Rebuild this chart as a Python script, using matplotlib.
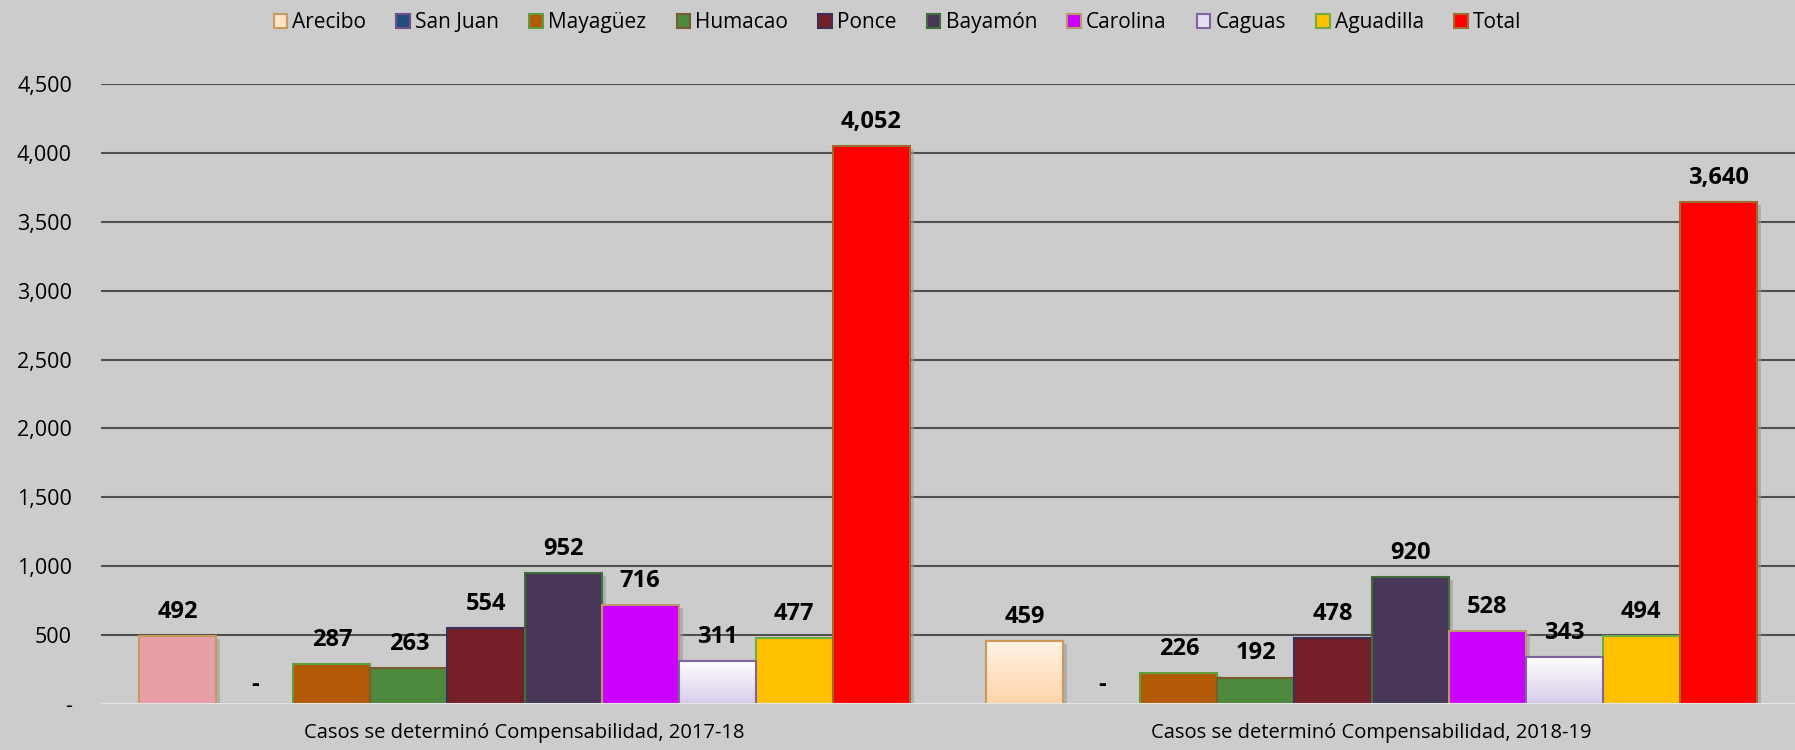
import numpy as np
import matplotlib.pyplot as plt
import matplotlib.patheffects as pe
from matplotlib.patches import Patch
from matplotlib.colors import LinearSegmentedColormap

plt.rcParams['font.family'] = ['Open Sans', 'DejaVu Sans']

# data
categories = ['Casos se determinó Compensabilidad, 2017-18',
              'Casos se determinó Compensabilidad, 2018-19']
regions = ['Arecibo', 'San Juan', 'Mayagüez', 'Humacao', 'Ponce',
           'Bayamón', 'Carolina', 'Caguas', 'Aguadilla', 'Total']
vals_1718 = [492, 0, 287, 263, 554, 952, 716, 311, 477, 4052]
vals_1819 = [459, 0, 226, 192, 478, 920, 528, 343, 494, 3640]
y_ticks = [0, 500, 1000, 1500, 2000, 2500, 3000, 3500, 4000, 4500]

face = ['#FFE3C6', '#1F4E79', '#B35A07', '#4E8A3E', '#751F28',
        '#483758', '#CC00FF', '#E6DDF2', '#FFC000', '#FF0000']
edge = ['#C9995E', '#6B4E8A', '#5E9E3E', '#7A5A30', '#3E2F5A',
        '#3F6E3A', '#B89A6A', '#8064A2', '#70AD47', '#9E6A2E']
# first-year Arecibo bar is drawn pink in the original
face_1718 = list(face)
face_1718[0] = '#E8A0A8'
gradients = {0: ('#FFF3E6', '#FFD5AA'), 7: ('#FFFFFF', '#D8CCEA')}

fig = plt.figure(figsize=(17.95, 7.5), dpi=100)
fig.patch.set_facecolor('#CCCCCC')
ax = fig.add_axes([0.0563, 0.0613, 0.9437, 0.8267])
ax.set_facecolor('#CCCCCC')

n = len(regions)
group_w = 0.91
w = group_w / n
x = np.arange(len(categories))
shadow = [pe.SimplePatchShadow(offset=(3, -2), shadow_rgbFace='#9a9a9a', alpha=0.6), pe.Normal()]

for gi, vals in enumerate([vals_1718, vals_1819]):
    cols = face_1718 if gi == 0 else face
    for i, v in enumerate(vals):
        xpos = x[gi] - group_w / 2 + w * (i + 0.5)
        b = ax.bar(xpos, v, width=w, color=cols[i], edgecolor=edge[i],
                   linewidth=1.5, zorder=3)[0]
        if v > 0:
            b.set_path_effects(shadow)
        grad = gradients.get(i)
        if grad and not (gi == 0 and i == 0) and v > 0:
            cmap = LinearSegmentedColormap.from_list('g', [grad[1], grad[0]])
            im = ax.imshow(np.linspace(0, 1, 100).reshape(-1, 1), cmap=cmap,
                           extent=[xpos - w / 2, xpos + w / 2, 0, v],
                           origin='lower', aspect='auto', zorder=3.1)
            im.set_clip_path(b)
            ax.bar(xpos, v, width=w, color='none', edgecolor=edge[i],
                   linewidth=1.5, zorder=3.2)
        label = f'{v:,}' if v > 0 else '-'
        yoff = 175 if v > 0 else 140
        ax.text(xpos, v + yoff, label, ha='center', va='center',
                fontsize=17, fontweight='bold', color='black', zorder=5)

ax.set_xlim(-0.5, 1.5)
ax.set_ylim(0, 4500)
ax.set_yticks(y_ticks)
ax.set_yticklabels(['-'] + [f'{t:,}' for t in y_ticks[1:]], fontsize=15.5)
ax.set_xticks(x)
ax.set_xticklabels(categories, fontsize=14.5)
ax.tick_params(axis='x', length=0, pad=14)
ax.tick_params(axis='y', length=0, pad=21)
for s in ax.spines.values():
    s.set_visible(False)
for t in y_ticks[1:]:
    ax.axhline(t, color='#505050', linewidth=1.5, zorder=1)
ax.axhline(0, color='#E6E6E6', linewidth=1.5, zorder=4)

handles = [Patch(facecolor=face[i], edgecolor=edge[i], linewidth=1.5, label=regions[i])
           for i in range(n)]
fig.legend(handles=handles, loc='center', bbox_to_anchor=(0.5, 0.97), ncol=n,
           frameon=False, fontsize=15, handlelength=0.65, handleheight=0.65,
           handletextpad=0.25, columnspacing=1.45)

fig.savefig('out.png', dpi=100, facecolor=fig.get_facecolor())
